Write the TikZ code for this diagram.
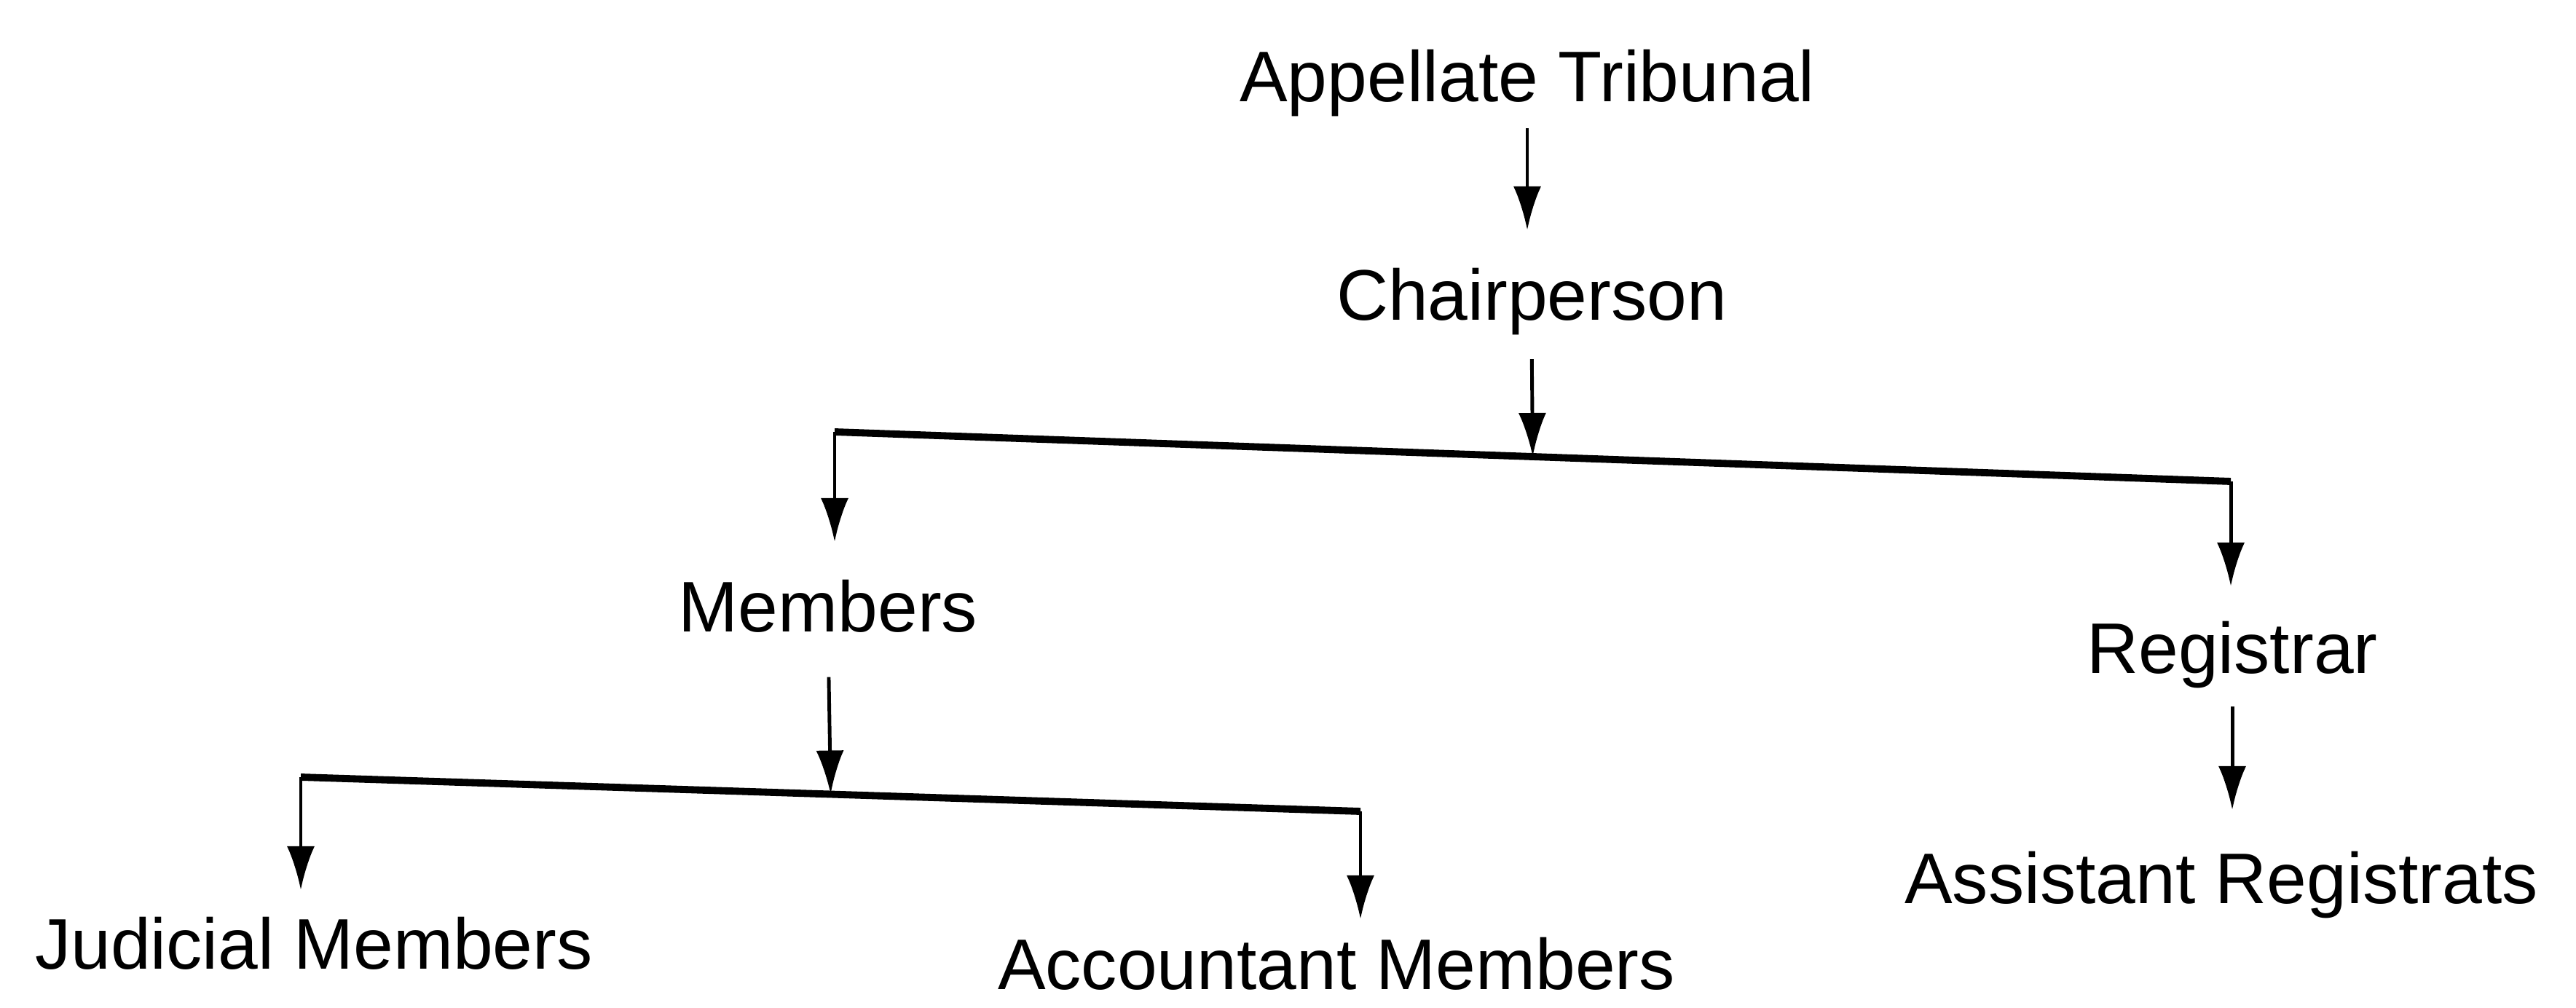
\documentclass[tikz,border=0pt]{standalone}
\usepackage{fontspec}
\setmainfont{Liberation Sans}
\usetikzlibrary{calc}
\usetikzlibrary{arrows.meta}

\tikzset{
  lbl/.style={font=\fontsize{28}{32}\selectfont, inner sep=0pt, anchor=base},
  arr/.style={-{Latex[length=6mm,width=3.8mm]}, line width=1.4pt},
  bar/.style={line width=2.8pt},
}

\begin{document}
\begin{tikzpicture}
    \useasboundingbox (0,0) rectangle (35.37,-13.84);

    % Levels
    \node[lbl] (trib)  at (20.97,-1.40)  {Appellate Tribunal};
    \node[lbl] (chair) at (21.03,-4.40)  {Chairperson};
    \node[lbl] (mem)   at (11.37,-8.68)  {Members};
    \node[lbl] (reg)   at (30.65,-9.25)  {Registrar};
    \node[lbl] (jud)   at (4.31,-13.30)  {Judicial Members};
    \node[lbl] (acc)   at (18.35,-13.58) {Accountant Members};
    \node[lbl] (asst)  at (30.50,-12.40) {Assistant Registrats};

    % Bars
    \coordinate (b1l) at (11.46,-5.93);
    \coordinate (b1r) at (30.63,-6.61);
    \coordinate (b2l) at (4.13,-10.67);
    \coordinate (b2r) at (18.68,-11.14);
    \draw[bar] (b1l) -- (b1r);
    \draw[bar] (b2l) -- (b2r);

    % Arrows
    \draw[arr, shorten <=0.15cm, shorten >=0.52cm] (trib.south) -- (trib.south |- chair.north);
    \draw[arr, shorten <=0.32cm] (chair.south) -- ($(b1l)!0.5!(b1r)$);
    \draw[arr, shorten >=0.52cm] (b1l) -- (b1l |- mem.north);
    \draw[arr, shorten >=0.48cm] (b1r) -- (b1r |- reg.north);
    \draw[arr, shorten <=0.60cm] (mem.south) -- ($(b2l)!0.5!(b2r)$);
    \draw[arr, shorten >=0.36cm] (b2l) -- (b2l |- jud.north);
    \draw[arr, shorten >=0.24cm] (b2r) -- (b2r |- acc.north);
    \draw[arr, shorten <=0.24cm, shorten >=0.56cm] (reg.south) -- (reg.south |- asst.north);
\end{tikzpicture}
\end{document}
